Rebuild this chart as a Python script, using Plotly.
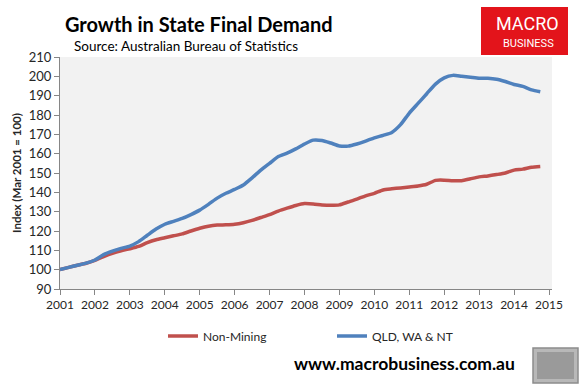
import plotly.graph_objects as go

# ---- data (quarterly, Mar 2001 .. Dec 2014) ----
years = list(range(2001, 2015))
quarter_offsets = [0.0, 0.25, 0.5, 0.75]
x_dates = [y + q for y in years for q in quarter_offsets]

non_mining = [
    100.0, 101.2, 102.3, 103.3,
    104.8, 106.8, 108.5, 109.8,
    110.8, 112.0, 114.0, 115.5,
    116.5, 117.5, 118.5, 120.0,
    121.4, 122.5, 123.1, 123.2,
    123.5, 124.3, 125.5, 127.0,
    128.5, 130.3, 131.8, 133.2,
    134.2, 134.0, 133.5, 133.3,
    133.5, 135.0, 136.5, 138.2,
    139.5, 141.2, 141.8, 142.3,
    142.8, 143.3, 144.2, 146.2,
    146.3, 146.0, 146.0, 147.0,
    148.0, 148.5, 149.2, 150.0,
    151.5, 152.0, 153.0, 153.4,
]

qld_wa_nt = [
    100.0, 101.2, 102.3, 103.4,
    105.0, 107.8, 109.6, 111.0,
    112.2, 114.5, 117.8, 121.0,
    123.5, 125.0, 126.5, 128.5,
    130.8, 133.8, 137.0, 139.5,
    141.5, 143.8, 147.5, 151.5,
    155.0, 158.5, 160.3, 162.5,
    165.0, 167.0, 166.8, 165.5,
    164.0, 163.9, 165.0, 166.5,
    168.2, 169.5, 171.0, 175.0,
    181.0, 186.0, 191.0, 196.0,
    199.2, 200.5, 200.0, 199.5,
    199.0, 199.0, 198.5, 197.3,
    195.8, 194.8, 193.0, 192.0,
]

x_tick_labels = [str(y) for y in range(2001, 2016)]
y_ticks = list(range(90, 211, 10))

# ---- layout geometry (pixels) ----
W, H = 580, 391
L, R, T, B = 60, 552, 57, 289


def px(xp):
    return (xp - L) / (R - L)


def py(yp):
    return (B - yp) / (B - T)


FONT = "Lato"
TXT = "#262626"

fig = go.Figure()
fig.add_trace(go.Scatter(
    x=x_dates, y=non_mining, mode="lines", name="Non-Mining",
    line=dict(color="#C0504D", width=3.5, shape="spline", smoothing=0.6),
))
fig.add_trace(go.Scatter(
    x=x_dates, y=qld_wa_nt, mode="lines", name="QLD, WA & NT",
    line=dict(color="#4F81BD", width=3.5, shape="spline", smoothing=0.6),
))

fig.update_layout(
    width=W, height=H,
    margin=dict(l=L, r=W - R, t=T, b=H - B, pad=0),
    paper_bgcolor="white",
    plot_bgcolor="#F2F2F2",
    font=dict(family=FONT, size=12, color=TXT),
    showlegend=True,
    legend=dict(
        orientation="h", x=px(163), y=py(336), xanchor="left", yanchor="middle",
        font=dict(family=FONT, size=12, color=TXT),
        itemwidth=30, entrywidth=124, entrywidthmode="pixels",
        bgcolor="rgba(0,0,0,0)", tracegroupgap=0,
    ),
    xaxis=dict(
        range=[2001, 2001 + (R - L) / ((549 - 60) / 14)],
        tickmode="array",
        tickvals=list(range(2001, 2016)),
        ticktext=x_tick_labels,
        showgrid=False, zeroline=False,
        showline=True, linecolor="#868686", linewidth=1,
        ticks="outside", ticklen=5, tickcolor="#868686",
        tickfont=dict(family=FONT, size=12, color=TXT),
    ),
    yaxis=dict(
        range=[90, 210],
        tickmode="array", tickvals=y_ticks,
        showgrid=False, zeroline=False,
        showline=True, linecolor="#868686", linewidth=1,
        ticks="outside", ticklen=5, tickcolor="#868686",
        tickfont=dict(family=FONT, size=13, color=TXT),
        title=dict(text="<b>Index (Mar 2001 = 100)</b>", standoff=4,
                   font=dict(family=FONT, size=11.5, color=TXT)),
    ),
)

annotations = [
    dict(text="<b>Growth in State Final Demand</b>", x=px(63), y=py(24),
         xanchor="left", yanchor="middle",
         font=dict(family=FONT, size=20, color="#000000")),
    dict(text="Source: Australian Bureau of Statistics", x=px(72), y=py(46),
         xanchor="left", yanchor="middle",
         font=dict(family=FONT, size=13.5, color="#000000")),
    dict(text="<b>www.macrobusiness.com.au</b>", x=px(404), y=py(363),
         xanchor="center", yanchor="middle",
         font=dict(family=FONT, size=17.5, color="#000000")),
    dict(text="MACRO", x=px(527), y=py(23), xanchor="center", yanchor="middle",
         font=dict(family="Roboto", size=18, color="white")),
    dict(text="BUSINESS", x=px(528), y=py(44), xanchor="center", yanchor="middle",
         font=dict(family="Roboto", size=11, color="white")),
]
for a in annotations:
    a.update(xref="paper", yref="paper", showarrow=False)
fig.update_layout(annotations=annotations)

shapes = [
    dict(type="rect", x0=px(481), x1=px(568), y0=py(55), y1=py(7),
         fillcolor="#E3141B", line=dict(width=0), layer="below"),
    dict(type="rect", x0=px(533), x1=px(578), y0=py(383), y1=py(348),
         fillcolor="#B8B8B8", line=dict(color="#8C8C8C", width=1.5), layer="below"),
    dict(type="rect", x0=px(537), x1=px(574), y0=py(379), y1=py(352),
         fillcolor="#9A9A9A", line=dict(width=0), layer="below"),
]
for s in shapes:
    s.update(xref="paper", yref="paper")
fig.update_layout(shapes=shapes)

fig.write_html(
    "out.html",
    config={"displayModeBar": False},
    post_script="document.body.style.margin='0';document.body.style.padding='0';",
)
